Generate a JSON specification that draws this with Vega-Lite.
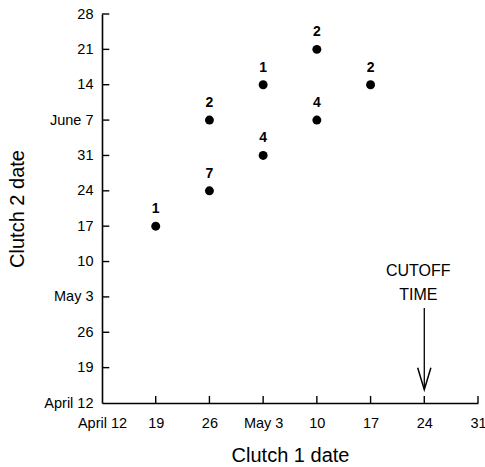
{
  "$schema": "https://vega.github.io/schema/vega-lite/v6.json",
  "width": 376,
  "height": 389,
  "autosize": "none",
  "padding": {"left": 102, "top": 14, "right": 7, "bottom": 64},
  "background": "white",
  "config": {
    "view": {"stroke": null},
    "font": "Liberation Sans",
    "axis": {
      "grid": false,
      "ticks": false,
      "domainColor": "black",
      "domainWidth": 1.6,
      "labelColor": "black",
      "titleColor": "black",
      "labelFont": "Liberation Sans",
      "titleFont": "Liberation Sans",
      "labelFontSize": 14.5,
      "titleFontSize": 20,
      "titleFontWeight": "normal",
      "labelOverlap": false,
      "labelFlush": false
    },
    "axisQuantitative": {"labelOverlap": false, "labelFlush": false}
  },
  "datasets": {
    "pts": [
      {"c1": 7, "c2": 35, "n": "1"},
      {"c1": 14, "c2": 42, "n": "7"},
      {"c1": 14, "c2": 56, "n": "2"},
      {"c1": 21, "c2": 49, "n": "4"},
      {"c1": 21, "c2": 63, "n": "1"},
      {"c1": 28, "c2": 56, "n": "4"},
      {"c1": 28, "c2": 70, "n": "2"},
      {"c1": 35, "c2": 63, "n": "2"}
    ],
    "xticks": [
      {"c1": 7, "c2": 0, "e": 1.4}, {"c1": 14, "c2": 0, "e": 1.4}, {"c1": 21, "c2": 0, "e": 1.4},
      {"c1": 28, "c2": 0, "e": 1.4}, {"c1": 35, "c2": 0, "e": 1.4}, {"c1": 42, "c2": 0, "e": 1.4},
      {"c1": 49, "c2": 0, "e": 1.4}
    ],
    "yticks": [
      {"c1": 0, "c2": 7, "e": 0.95}, {"c1": 0, "c2": 14, "e": 0.95}, {"c1": 0, "c2": 21, "e": 0.95},
      {"c1": 0, "c2": 28, "e": 0.95}, {"c1": 0, "c2": 35, "e": 0.95}, {"c1": 0, "c2": 42, "e": 0.95},
      {"c1": 0, "c2": 49, "e": 0.95}, {"c1": 0, "c2": 56, "e": 0.95}, {"c1": 0, "c2": 63, "e": 0.95},
      {"c1": 0, "c2": 70, "e": 0.95}, {"c1": 0, "c2": 77, "e": 0.95}
    ],
    "arrow": [{"c1": 42, "c2": 2.8, "y2": 18.8, "head": 4.8}],
    "note": [
      {"c1": 42, "c2": 26.2, "t": "CUTOFF"},
      {"c1": 42, "c2": 21.3, "t": "TIME"}
    ]
  },
  "encoding": {
    "x": {
      "field": "c1", "type": "quantitative",
      "scale": {"domain": [0, 49], "nice": false, "zero": false},
      "axis": {
        "title": "Clutch 1 date",
        "values": [0, 7, 14, 21, 28, 35, 42, 49],
        "labelExpr": "['April 12','19','26','May 3','10','17','24','31'][datum.value/7]",
        "labelPadding": 13,
        "titlePadding": 16,
        "labelFlush": false,
        "labelOverlap": false
      }
    },
    "y": {
      "field": "c2", "type": "quantitative",
      "scale": {"domain": [0, 77], "nice": false, "zero": false},
      "axis": {
        "title": "Clutch 2 date",
        "values": [0, 7, 14, 21, 28, 35, 42, 49, 56, 63, 70, 77],
        "labelExpr": "['April 12','19','26','May 3','10','17','24','31','June 7','14','21','28'][datum.value/7]",
        "labelPadding": 9,
        "titlePadding": 16,
        "labelFlush": false,
        "labelOverlap": false
      }
    }
  },
  "layer": [
    {
      "data": {"name": "xticks"},
      "mark": {"type": "rule", "color": "black", "strokeWidth": 1.4},
      "encoding": {"y2": {"field": "e"}}
    },
    {
      "data": {"name": "yticks"},
      "mark": {"type": "rule", "color": "black", "strokeWidth": 1.4},
      "encoding": {"x2": {"field": "e"}}
    },
    {
      "data": {"name": "pts"},
      "mark": {"type": "circle", "color": "black", "opacity": 1, "size": 80}
    },
    {
      "data": {"name": "pts"},
      "mark": {"type": "text", "fontSize": 14, "fontWeight": "bold", "dy": -17, "color": "black"},
      "encoding": {"text": {"field": "n"}}
    },
    {
      "data": {"name": "arrow"},
      "mark": {"type": "rule", "color": "black", "strokeWidth": 1.3},
      "encoding": {"y2": {"field": "y2"}}
    },
    {
      "data": {"name": "arrow"},
      "mark": {"type": "point", "shape": "M-0.6,-1L0,1L0.6,-1", "filled": false, "stroke": "black", "strokeWidth": 1.5, "size": 484, "opacity": 1},
      "encoding": {"y": {"field": "head", "type": "quantitative"}}
    },
    {
      "data": {"name": "note"},
      "mark": {"type": "text", "fontSize": 16, "color": "black", "dx": -6},
      "encoding": {"text": {"field": "t"}}
    }
  ]
}
